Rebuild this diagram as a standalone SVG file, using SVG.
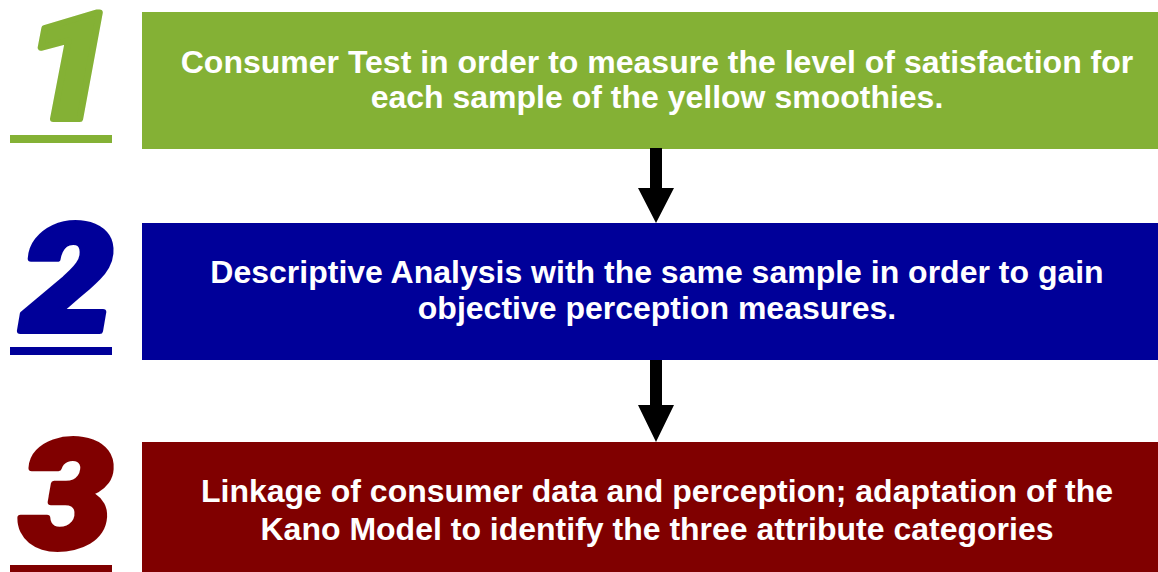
<svg xmlns="http://www.w3.org/2000/svg" width="1158" height="572" viewBox="0 0 1158 572">
  <style>
    .step-text { font-family: "Liberation Sans", Arial, sans-serif; font-weight: bold; font-size: 32px; fill: #ffffff; text-anchor: middle; }
    .num { font-family: Roboto, "Liberation Sans", Arial, sans-serif; font-weight: 900; font-style: italic; font-size: 150px; text-anchor: middle; stroke-width: 6; stroke-linejoin: round; }
    .green { fill: #84B135; stroke: #84B135; }
    .blue { fill: #000099; stroke: #000099; }
    .red { fill: #800000; stroke: #800000; }
    .arrow { fill: #000000; }
  </style>

  <rect x="0" y="0" width="1158" height="572" fill="#ffffff"/>

  <!-- Step 1 -->
  <g id="step1">
    <text class="num green" transform="translate(69,119) scale(1.1,1)">1</text>
    <rect x="10" y="135" width="102" height="8" fill="#84B135"/>
    <rect x="142" y="12" width="1016" height="137" fill="#84B135"/>
    <text class="step-text" x="657" y="73">Consumer Test in order to measure the level of satisfaction for</text>
    <text class="step-text" x="657" y="108">each sample of the yellow smoothies.</text>
  </g>

  <!-- Step 2 -->
  <g id="step2">
    <text class="num blue" transform="translate(67,331) scale(1.1,1)">2</text>
    <rect x="10" y="347" width="102" height="8" fill="#000099"/>
    <rect x="142" y="223" width="1016" height="137" fill="#000099"/>
    <text class="step-text" x="657" y="283">Descriptive Analysis with the same sample in order to gain</text>
    <text class="step-text" x="657" y="319">objective perception measures.</text>
  </g>

  <!-- Step 3 -->
  <g id="step3">
    <text class="num red" transform="translate(66,547) scale(1.1,1)">3</text>
    <rect x="10" y="565" width="102" height="7" fill="#800000"/>
    <rect x="142" y="442" width="1016" height="130" fill="#800000"/>
    <text class="step-text" x="657" y="502">Linkage of consumer data and perception; adaptation of the</text>
    <text class="step-text" x="657" y="540">Kano Model to identify the three attribute categories</text>
  </g>

  <!-- Connectors -->
  <g id="connectors">
    <polygon class="arrow" points="650,148 662,148 662,188 674,188 656,223 638,188 650,188"/>
    <polygon class="arrow" points="650,360 662,360 662,405 674,405 656,442 638,405 650,405"/>
  </g>
</svg>
